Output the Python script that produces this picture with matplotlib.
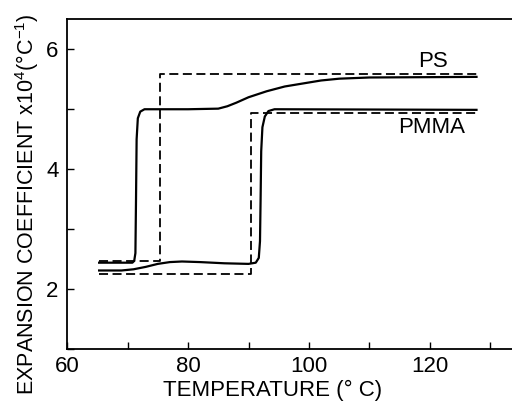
import matplotlib
matplotlib.use("Agg")
import matplotlib.pyplot as plt
from matplotlib.ticker import MultipleLocator

# values (temperature in C, coefficient x10^4)
ps_solid_t = [65.3, 70.8, 71.1, 71.3, 71.4, 71.5, 71.7, 72.1, 72.8, 80, 85, 86.5,
              88, 90, 93, 96, 99, 102, 105, 110, 127.7]
ps_solid_a = [2.44, 2.44, 2.47, 2.6, 3.5, 4.5, 4.85, 4.96, 5.0, 5.0, 5.01, 5.05,
              5.11, 5.2, 5.3, 5.38, 5.43, 5.48, 5.51, 5.53, 5.54]

pmma_solid_t = [65.3, 69, 71, 73, 75, 77, 79, 82, 86, 90, 91.2, 91.7, 91.9, 92.0,
                92.1, 92.3, 92.7, 93.3, 94.3, 127.7]
pmma_solid_a = [2.31, 2.31, 2.33, 2.37, 2.42, 2.45, 2.46, 2.45, 2.43, 2.42, 2.44,
                2.52, 2.8, 3.5, 4.3, 4.7, 4.88, 4.97, 5.0, 4.99]

ps_dash_t = [65.3, 75.3, 75.3, 127.7]
ps_dash_a = [2.46, 2.46, 5.58, 5.58]

pmma_dash_t = [65.3, 90.4, 90.4, 127.7]
pmma_dash_a = [2.25, 2.25, 4.94, 4.94]

plt.rcParams['font.family'] = ['Liberation Sans', 'DejaVu Sans']
plt.rcParams['mathtext.fontset'] = 'custom'
plt.rcParams['mathtext.rm'] = 'Liberation Sans'

fig = plt.figure(figsize=(5.12, 4.03), dpi=100)
ax = fig.add_axes([0.131, 0.134, 0.88, 0.818])

ax.plot(ps_solid_t, ps_solid_a, color='black', lw=1.6)
ax.plot(pmma_solid_t, pmma_solid_a, color='black', lw=1.6)
ax.plot(ps_dash_t, ps_dash_a, color='black', lw=1.3, dashes=(5, 2.5))
ax.plot(pmma_dash_t, pmma_dash_a, color='black', lw=1.3, dashes=(5, 2.5))

ax.text(120.5, 5.8, 'PS', fontsize=16, ha='center', va='center')
ax.text(120.3, 4.7, 'PMMA', fontsize=16, ha='center', va='center')

ax.set_xlim(60, 134.5)
ax.set_ylim(1, 6.5)
ax.xaxis.set_major_locator(MultipleLocator(20))
ax.xaxis.set_minor_locator(MultipleLocator(10))
ax.yaxis.set_major_locator(MultipleLocator(2))
ax.yaxis.set_minor_locator(MultipleLocator(1))
ax.tick_params(which='both', direction='in', length=5, width=1, labelsize=16,
               top=False, right=False)
ax.tick_params(axis='x', pad=5)
ax.tick_params(axis='y', pad=6)
ax.spines['right'].set_visible(False)
for s in ['left', 'bottom', 'top']:
    ax.spines[s].set_linewidth(1.3)

ax.set_xlabel('TEMPERATURE (° C)', fontsize=16)
ax.xaxis.set_label_coords(0.457, -0.095)
ax.set_ylabel('EXPANSION COEFFICIENT x10$^{\\mathrm{4}}$(°C$^{\\mathrm{-1}}$)',
              fontsize=15.5)
ax.yaxis.set_label_coords(-0.058, 0.44)

fig.savefig('out.png', dpi=100)
